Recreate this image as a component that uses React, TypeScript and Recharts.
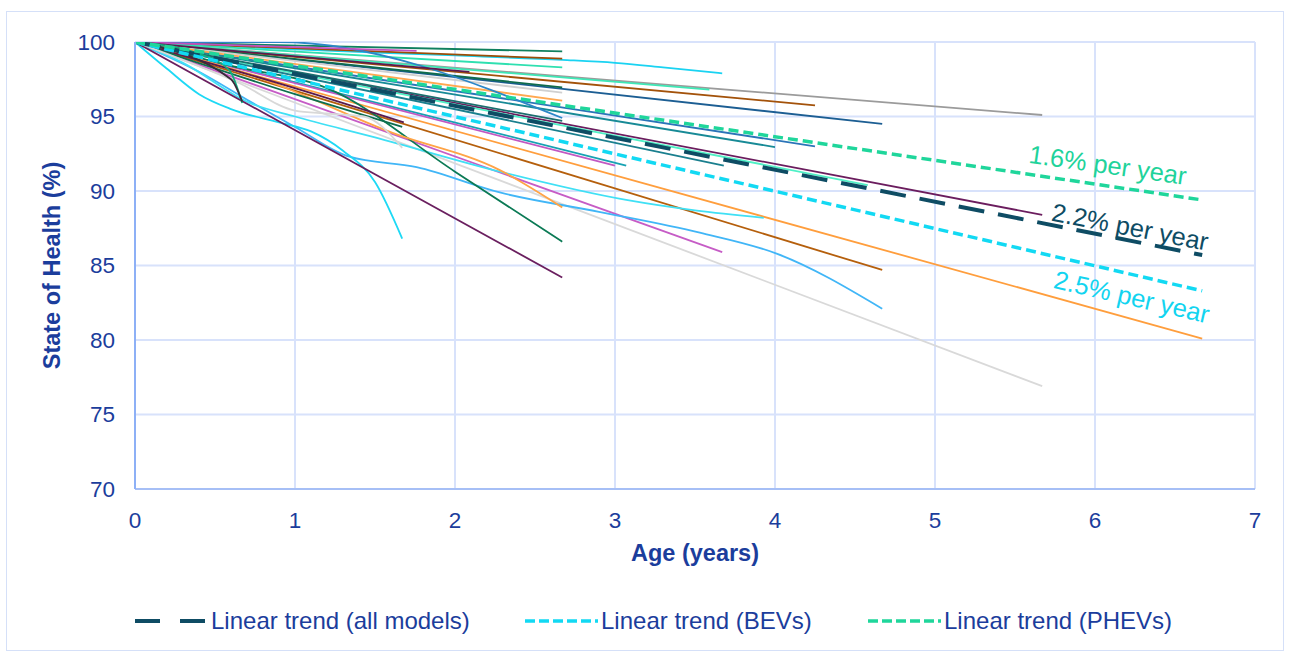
import React from 'react';
import { LineChart, Line, XAxis, YAxis, CartesianGrid, ReferenceDot } from 'recharts';

type Pt = [number, number];

// per-model battery health curves: [age (years), state of health (%)]
const greyLong: Pt[] = [[0, 100], [5.67, 95.1]];
const lightGreyLong: Pt[] = [[0, 100], [5.67, 76.9]];
const orangeLong: Pt[] = [[0, 100], [6.67, 80.1]];
const brownLong: Pt[] = [[0, 100], [4.67, 84.7]];
const magentaLong: Pt[] = [[0, 100], [3.67, 85.9]];
const purpleLong: Pt[] = [[0, 100], [5.67, 88.4]];
const navyA: Pt[] = [[0, 100], [4.67, 94.5]];
const navyB: Pt[] = [[0, 100], [4.25, 93.0]];
const brownMid: Pt[] = [[0, 100], [4.25, 95.75]];
const tealA: Pt[] = [[0, 100], [4.0, 92.95]];
const aquaLong: Pt[] = [[0, 100], [4.58, 90.4]];
const tealB: Pt[] = [[0, 100], [3.68, 91.7]];
const tealC: Pt[] = [[0, 100], [3.07, 91.7]];
const magentaMid: Pt[] = [[0, 100], [3.0, 91.7]];
const cyanFlat: Pt[] = [[0, 100], [1, 99.5], [2, 99.1], [2.67, 98.8], [3, 98.6], [3.3, 98.3], [3.67, 97.9]];
const aquaMid: Pt[] = [[0, 100], [3.59, 96.8]];
const blueCurve: Pt[] = [[0, 100], [0.4, 98], [0.72, 96], [1, 94.3], [1.34, 92.3], [1.76, 91.6], [2.28, 89.9], [2.9, 88.6], [3.53, 87.2], [4.01, 85.8], [4.67, 82.1]];
const cyanMid: Pt[] = [[0, 100], [0.3, 98.6], [0.72, 95.9], [1, 95], [1.5, 93.6], [2.28, 91.3], [3.07, 89.4], [3.5, 88.7], [3.93, 88.2]];
const cyanDrop: Pt[] = [[0, 100], [0.2, 98.2], [0.4, 96.5], [0.6, 95.5], [0.9, 94.6], [1.1, 94], [1.3, 92.7], [1.5, 90.6], [1.67, 86.8]];
const purpleSteep: Pt[] = [[0, 100], [2.67, 84.2]];
const greenSteep: Pt[] = [[0, 100], [0.6, 98.4], [1.2, 96.9], [2, 91.3], [2.67, 86.6]];
const orangeShort: Pt[] = [[0, 100], [0.8, 97.5], [1.61, 93.9], [2.28, 91.4], [2.67, 88.9]];
const greenTop: Pt[] = [[0, 100], [2.67, 99.37]];
const brownTop: Pt[] = [[0, 100], [2.67, 98.88]];
const aquaTop: Pt[] = [[0, 100], [2.67, 98.3]];
const greenTop2: Pt[] = [[0, 100], [2.67, 96.96]];
const lightGreyTop: Pt[] = [[0, 100], [2.67, 96.6]];
const orangeTop: Pt[] = [[0, 100], [2.67, 96.06]];
const tealTop: Pt[] = [[0, 100], [2.67, 94.7]];
const steelBlue: Pt[] = [[0, 100], [0.9, 100], [2.67, 94.9]];
const magentaTop: Pt[] = [[0, 100], [1.76, 99.4]];
const purpleTop: Pt[] = [[0, 100], [2.09, 98.0]];
const purpleShort: Pt[] = [[0, 100], [1.03, 96.8], [1.68, 94.6]];
const greenShort: Pt[] = [[0, 100], [1.0, 96.5], [1.67, 94.3]];
const lightGreyShort: Pt[] = [[0, 100], [0.66, 97.2], [1.0, 95.4], [1.2, 95.2], [1.43, 95.0], [1.67, 92.9]];
const greenDrop: Pt[] = [[0, 100], [0.4, 99.2], [0.59, 98.1], [0.67, 95.9]];
const darkDrop: Pt[] = [[0, 100], [0.6, 97.5], [0.67, 96.0]];

// fitted trends
const trendAll: Pt[] = [[0, 100], [6.67, 85.7]];
const trendBev: Pt[] = [[0, 100], [6.67, 83.3]];
const trendPhev: Pt[] = [[0, 100], [6.67, 89.4]];

const xTicks = [0, 1, 2, 3, 4, 5, 6, 7];
const yTicks = [70, 75, 80, 85, 90, 95, 100];

const trendLabels = [
  { text: '1.6% per year', age: 6.08, soh: 91.75 },
  { text: '2.2% per year', age: 6.22, soh: 87.6 },
  { text: '2.5% per year', age: 6.23, soh: 82.9 },
];

const FONT = '"Liberation Sans", Arial, sans-serif';
const TEXT = '#1b3d9c';

const models = [
  { id: 'lightGreyLong', pts: lightGreyLong, color: '#d9d9d9' },
  { id: 'greyLong', pts: greyLong, color: '#9b9b9b' },
  { id: 'orangeLong', pts: orangeLong, color: '#ff9e3d' },
  { id: 'brownLong', pts: brownLong, color: '#b55f0c' },
  { id: 'magentaLong', pts: magentaLong, color: '#c65cc6' },
  { id: 'purpleLong', pts: purpleLong, color: '#6b1d5e' },
  { id: 'navyA', pts: navyA, color: '#1c5e93' },
  { id: 'navyB', pts: navyB, color: '#2a74b8' },
  { id: 'brownMid', pts: brownMid, color: '#a3520a' },
  { id: 'tealA', pts: tealA, color: '#178a96' },
  { id: 'aquaLong', pts: aquaLong, color: '#4ff0c6' },
  { id: 'tealB', pts: tealB, color: '#1a7f8e' },
  { id: 'tealC', pts: tealC, color: '#17a2b3' },
  { id: 'magentaMid', pts: magentaMid, color: '#c258c2' },
  { id: 'cyanFlat', pts: cyanFlat, color: '#1ad3f2' },
  { id: 'aquaMid', pts: aquaMid, color: '#3ee8b6' },
  { id: 'blueCurve', pts: blueCurve, color: '#41b6f7' },
  { id: 'cyanMid', pts: cyanMid, color: '#40e0f5' },
  { id: 'cyanDrop', pts: cyanDrop, color: '#1ed9f5' },
  { id: 'purpleSteep', pts: purpleSteep, color: '#6a1f5f' },
  { id: 'greenSteep', pts: greenSteep, color: '#0b7a55' },
  { id: 'orangeShort', pts: orangeShort, color: '#ffa446' },
  { id: 'greenTop', pts: greenTop, color: '#10805f' },
  { id: 'brownTop', pts: brownTop, color: '#9c4d08' },
  { id: 'aquaTop', pts: aquaTop, color: '#2ee0b0' },
  { id: 'greenTop2', pts: greenTop2, color: '#0f6b4d' },
  { id: 'lightGreyTop', pts: lightGreyTop, color: '#d0d0d0' },
  { id: 'orangeTop', pts: orangeTop, color: '#ffa850' },
  { id: 'tealTop', pts: tealTop, color: '#1b6e6e' },
  { id: 'steelBlue', pts: steelBlue, color: '#2c86c8' },
  { id: 'magentaTop', pts: magentaTop, color: '#c050c0' },
  { id: 'purpleTop', pts: purpleTop, color: '#5c1a50' },
  { id: 'purpleShort', pts: purpleShort, color: '#5a1a4e' },
  { id: 'greenShort', pts: greenShort, color: '#0d6e4e' },
  { id: 'lightGreyShort', pts: lightGreyShort, color: '#d8d8d8' },
  { id: 'greenDrop', pts: greenDrop, color: '#10b080' },
  { id: 'darkDrop', pts: darkDrop, color: '#3a2a3a' },
];

const trends = [
  { id: 'all', pts: trendAll, color: '#0e4c64', dash: '26 14', width: 4, name: 'Linear trend (all models)' },
  { id: 'bev', pts: trendBev, color: '#12d9f3', dash: '10 5', width: 3.5, name: 'Linear trend (BEVs)' },
  { id: 'phev', pts: trendPhev, color: '#1fd69b', dash: '10 5', width: 3.5, name: 'Linear trend (PHEVs)' },
];

const labelLook = [
  { color: '#1fd39b', angle: 8 },
  { color: '#0e4c64', angle: 11 },
  { color: '#12d4f0', angle: 13 },
];

const legendLeft = [135, 525, 868];

const toRows = (pts: Pt[]) => pts.map(([age, soh]) => ({ age, soh }));

const App: React.FC = () => {
  const xLabel = (props: any) => {
    const vb = props.viewBox;
    return (
      <text x={vb.x + vb.width / 2} y={vb.y + 64} textAnchor="middle" dominantBaseline="central"
        fill={TEXT} fontSize={23.5} fontWeight="bold" fontFamily={FONT}>Age (years)</text>
    );
  };
  const yLabel = (props: any) => {
    const vb = props.viewBox;
    const cx = vb.x + 52;
    const cy = vb.y + vb.height / 2;
    return (
      <text x={cx} y={cy} transform={`rotate(-90 ${cx} ${cy})`} textAnchor="middle" dominantBaseline="central"
        fill={TEXT} fontSize={23.5} fontWeight="bold" fontFamily={FONT}>State of Health (%)</text>
    );
  };

  return (
    <div style={{ position: 'absolute', left: 0, top: 0, width: 1289, height: 653, background: '#fff', fontFamily: FONT }}>
      <div style={{ position: 'absolute', left: 6, top: 11, width: 1276, height: 638, border: '1px solid #d5e0f8' }} />
      <LineChart width={1289} height={653} margin={{ top: 42, right: 34, left: 0, bottom: 84 }}>
        <CartesianGrid stroke="#d8e2fb" strokeWidth={2} />
        <XAxis dataKey="age" type="number" domain={[0, 7]} ticks={xTicks} height={80}
          axisLine={{ stroke: '#a6bff6', strokeWidth: 2 }} tickLine={false} tickSize={0} tickMargin={23}
          tick={{ fill: TEXT, fontSize: 22.5, fontFamily: FONT }} label={xLabel} allowDataOverflow />
        <YAxis dataKey="soh" type="number" domain={[70, 100]} ticks={yTicks} width={135}
          axisLine={{ stroke: '#8db0f6', strokeWidth: 2 }} tickLine={false} tickSize={0} tickMargin={20}
          tick={{ fill: TEXT, fontSize: 22.5, fontFamily: FONT }} label={yLabel} allowDataOverflow />
        {models.map((m) => (
          <Line key={m.id} data={toRows(m.pts)} dataKey="soh" name={m.id} type="monotone" stroke={m.color}
            strokeWidth={1.8} dot={false} activeDot={false} isAnimationActive={false} />
        ))}
        {trends.map((t) => (
          <Line key={t.id} data={toRows(t.pts)} dataKey="soh" name={t.name} type="linear" stroke={t.color}
            strokeWidth={t.width} strokeDasharray={t.dash} dot={false} activeDot={false} isAnimationActive={false} />
        ))}
        {trendLabels.map((l, i) => (
          <ReferenceDot key={l.text} x={l.age} y={l.soh} r={0} fill="none" stroke="none"
            label={(p: any) => {
              const vb = p.viewBox;
              const cx = vb.x + (vb.width || 0) / 2;
              const cy = vb.y + (vb.height || 0) / 2;
              return (
                <text x={cx} y={cy} transform={`rotate(${labelLook[i].angle} ${cx} ${cy})`} textAnchor="middle"
                  dominantBaseline="central" fill={labelLook[i].color} fontSize={25.5} fontFamily={FONT}>{l.text}</text>
              );
            }} />
        ))}
      </LineChart>
      {trends.map((t, i) => (
        <div key={t.id} style={{ position: 'absolute', left: legendLeft[i], top: 607, display: 'flex', alignItems: 'center',
          color: TEXT, fontSize: 24, whiteSpace: 'nowrap' }}>
          <svg width={73} height={10} style={{ marginRight: 3 }}>
            <line x1={0} y1={5} x2={73} y2={5} stroke={t.color} strokeWidth={t.width}
              strokeDasharray={i === 0 ? '25 20' : '10 4'} />
          </svg>
          <span>{t.name}</span>
        </div>
      ))}
    </div>
  );
};

export default App;
